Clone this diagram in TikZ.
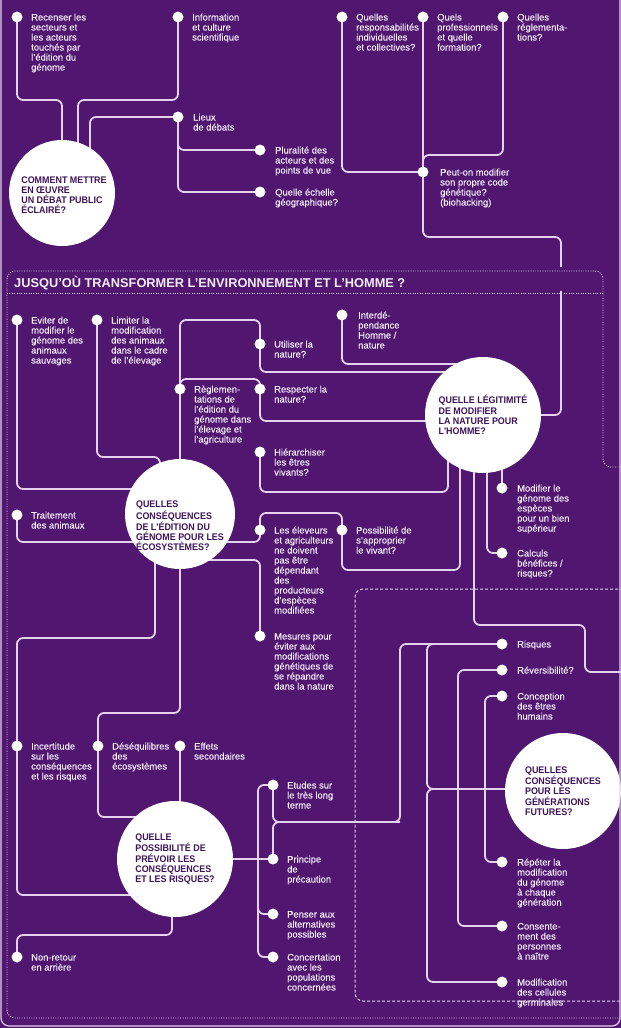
\documentclass[tikz,border=0pt]{standalone}
\usepackage{fontspec}
\setmainfont{Liberation Sans}[FakeStretch=1.0,UprightFeatures={FakeBold=0.3}]
\newfontfamily\circfont{Liberation Sans}[FakeStretch=0.93]
\usetikzlibrary{calc}
\definecolor{bgcol}{RGB}{80,22,112}
\definecolor{lncol}{RGB}{230,210,238}
\definecolor{labcol}{RGB}{244,236,248}
\definecolor{circtext}{RGB}{62,20,88}
\pgfdeclarelayer{back}\pgfdeclarelayer{lines}\pgfdeclarelayer{band}
\pgfsetlayers{back,lines,band,main}
\newcommand\lbl[1]{\begin{tabular}[t]{@{}l@{}}#1\end{tabular}}
\newcommand\lfont{\fontsize{9.4}{10}\selectfont}
\newcommand\cfont{\circfont\bfseries\fontsize{9.6}{10.2}\selectfont}
\tikzset{
 dot/.style={circle,fill=white,inner sep=0pt,minimum size=11pt},
 lab/.style={anchor=base west,inner sep=0pt,font=\lfont,text=labcol},
 bigc/.style={circle,fill=white,inner sep=0pt,minimum size=#1,font=\cfont,text=circtext,align=left},
 ctext/.style={inner sep=0pt,font=\cfont,text=circtext,align=left},
 ln/.style={draw=lncol,line width=1.8pt,rounded corners=6pt},
 dotfr/.style={draw=lncol,line width=0.9pt,dash pattern=on 0.9pt off 1.5pt,rounded corners=8pt},
 dashfr/.style={draw=lncol,line width=1pt,dash pattern=on 3pt off 2pt,rounded corners=8pt},
 outer/.style={draw=lncol,line width=1.2pt,rounded corners=8pt},
}
\newcommand\dotlabel[4][14]{\node[dot] (#2) at (#3) {};\node[lab] (#2t) at ($(#2)+(#1,3.5)$) {\lbl{#4}};}
\begin{document}
\begin{tikzpicture}[x=1pt,y=-1pt]
\useasboundingbox (0,0) rectangle (621,1028);
\begin{pgfonlayer}{back}
\fill[bgcol] (0,0) rectangle (621,1028);
\end{pgfonlayer}
% ---- section 1
\dotlabel{recenser}{17,17}{Recenser les\\secteurs et\\les acteurs\\touchés par\\l'édition du\\génome}
\dotlabel{info}{178,17}{Information\\et culture\\scientifique}
\dotlabel[15]{lieux}{178,117}{Lieux\\de débats}
\dotlabel[15]{plur}{260,150}{Pluralité des\\acteurs et des\\points de vue}
\dotlabel[15]{echelle}{260,192}{Quelle échelle\\géographique?}
\dotlabel{resp}{342,17}{Quelles\\responsabilités\\individuelles\\et collectives?}
\dotlabel{prof}{423,17}{Quels\\professionnels\\et quelle\\formation?}
\dotlabel{regl}{503,17}{Quelles\\réglementa-\\tions?}
\dotlabel[17]{peut}{423,172}{Peut-on modifier\\son propre code\\génétique?\\(biohacking)}
\node[bigc=106pt] (c1) at (62,193) {};
\node[ctext] (c1t) at (64,195) {COMMENT METTRE\\EN ŒUVRE\\UN DÉBAT PUBLIC\\ÉCLAIRÉ?};
% ---- section 2
\node[anchor=base west,inner sep=0pt,font=\bfseries\fontsize{12.8}{13}\selectfont,text=labcol] (hdr) at (14,287) {JUSQU’OÙ TRANSFORMER L’ENVIRONNEMENT ET L’HOMME ?};
\dotlabel{eviter}{17,320}{Eviter de\\modifier le\\génome des\\animaux\\sauvages}
\dotlabel{limiter}{97,320}{Limiter la\\modification\\des animaux\\dans le cadre\\de l'élevage}
\dotlabel{reg}{180,389}{Règlemen-\\tations de\\l'édition du\\génome dans\\l'élevage et\\l'agriculture}
\dotlabel{util}{260,344}{Utiliser la\\nature?}
\dotlabel{respect}{260,389}{Respecter la\\nature?}
\dotlabel{hier}{260,452}{Hiérarchiser\\les êtres\\vivants?}
\dotlabel[16]{inter}{342,315}{Interdé-\\pendance\\Homme /\\nature}
\dotlabel{trait}{17,515}{Traitement\\des animaux}
\dotlabel{eleveurs}{260,530}{Les éleveurs\\et agriculteurs\\ne doivent\\pas être\\dépendant\\des\\producteurs\\d'espèces\\modifiées}
\dotlabel{poss}{342,530}{Possibilité de\\s'approprier\\le vivant?}
\dotlabel{mesures}{260,636}{Mesures pour\\éviter aux\\modifications\\génétiques de\\se répandre\\dans la nature}
\dotlabel[15]{modg}{502,488}{Modifier le\\génome des\\espèces\\pour un bien\\supérieur}
\dotlabel[15]{calcul}{502,553}{Calculs\\bénéfices /\\risques?}
\dotlabel{incert}{17,746}{Incertitude\\sur les\\conséquences\\et les risques}
\dotlabel{deseq}{98,746}{Déséquilibres\\des\\écosystèmes}
\dotlabel{effets}{180,746}{Effets\\secondaires}
\dotlabel{etudes}{273,785}{Etudes sur\\le très long\\terme}
\dotlabel{princ}{273,859}{Principe\\de\\précaution}
\dotlabel{pens}{273,914}{Penser aux\\alternatives\\possibles}
\dotlabel{conc}{273,957}{Concertation\\avec les\\populations\\concernées}
\dotlabel{nonret}{17,957}{Non-retour\\en arrière}
\node[bigc=116pt] (c2) at (483,415) {QUELLE LÉGITIMITÉ\\DE MODIFIER\\LA NATURE POUR\\L'HOMME?};
\node[bigc=110pt] (c3) at (180,514) {};
\node[ctext] (c3t) at (180,526) {QUELLES\\CONSÉQUENCES\\DE L'ÉDITION DU\\GÉNOME POUR LES\\ÉCOSYSTÈMES?};
\node[bigc=116pt] (c4) at (175,859) {QUELLE\\POSSIBILITÉ DE\\PRÉVOIR LES\\CONSÉQUENCES\\ET LES RISQUES?};
% ---- section 3
\dotlabel[15]{risq}{502,644}{Risques}
\dotlabel[15]{rev}{502,670}{Réversibilité?}
\dotlabel[15]{concep}{502,696}{Conception\\des êtres\\humains}
\dotlabel[15]{rep}{502,862}{Répéter la\\modification\\du génome\\à chaque\\génération}
\dotlabel[15]{cons}{502,926}{Consente-\\ment des\\personnes\\à naître}
\dotlabel[15]{modif}{502,982}{Modification\\des cellules\\germinales}
\node[bigc=116pt] (c5) at (563,791) {QUELLES\\CONSÉQUENCES\\POUR LES\\GÉNÉRATIONS\\FUTURES?};
\coordinate (out1) at (628,672);
% ---- connectors
\begin{pgfonlayer}{lines}
\draw[ln] (recenser.center) |- (62,100) -- (c1.center);
\draw[ln] (info.center) |- (78,100) -- (c1.center -| 78,0);
\draw[ln] (lieux.center) -| (c1.center -| 90,0);
\draw[ln] (lieux.center) |- (plur.center);
\draw[ln] (lieux.center) |- (echelle.center);
\draw[ln] (resp.center) |- (peut.center);
\draw[ln] (prof.center) -- (peut.center);
\draw[ln] (regl.center) |- (423,155) -- (peut.center);
\draw[ln] (peut.center) |- (561,237) |- (c2.center);
\draw[ln] (eviter.center) |- (c3.center |- 0,489);
\draw[ln] (limiter.center) |- (160,457) -- (c3.center -| 160,0);
\draw[ln] (c3.center) -- (reg.center) -- (180,320) -| (util.center) |- (c2.center |- 0,372);
\draw[ln] (reg.center) |- (260,379) -- (respect.center) |- (c2.center |- 0,421);
\draw[ln] (inter.center) |- (c2.center |- 0,364);
\draw[ln] (hier.center) |- (448,492) -- (c2.center -| 448,0);
\draw[ln] (c3.center |- 0,542) -| (eleveurs.center) |- (342,513) -- (poss.center) |- (460,570) -- (c2.center -| 460,0);
\draw[ln] (c3.center |- 0,560) -| (mesures.center);
\draw[ln] (trait.center) |- (c3.center |- 0,542);
\draw[ln] (c3.center -| 155,0) |- (17,638) -- (incert.center);
\draw[ln] (c3.center) |- (98,713) -- (deseq.center) |- (c4.center |- 0,817);
\draw[ln] (incert.center) |- (c4.center |- 0,895);
\draw[ln] (effets.center) -- (effets.center |- c4.center);
\draw[ln] (c4.center -| 172,0) |- (17,935) -- (nonret.center);
\draw[ln] (c4.center) -- (princ.center);
\draw[ln] (etudes.center) -| (258,900) |- (conc.center);
\draw[ln] (258,880) |- (pens.center);
\draw[ln] (etudes.center) |- (400,822) |- (risq.center);
\draw[ln] (princ.center) |- (400,822);
\draw[ln] (risq.center) -| (427,720) |- (c5.center |- 0,789);
\draw[ln] (c5.center |- 0,789) -| (427,900) |- (modif.center);
\draw[ln] (rev.center) -| (458,800) |- (cons.center);
\draw[ln] (concep.center) -| (485,800) |- (rep.center);
\draw[ln] (c2.center -| 474,0) |- (585,625) |- (out1);
\draw[ln] (c2.center -| 487,0) |- (calcul.center);
\draw[ln] (c2.center -| 502,0) -- (modg.center);
\end{pgfonlayer}
\begin{pgfonlayer}{band}
\fill[bgcol] (9,267) rectangle (601,291);
\end{pgfonlayer}
% ---- frames
\draw[dotfr] (628,467) -- (603,467) -- (603,271) -- (7,271) -- (7,1018) -- (628,1018);
\draw[dotfr] (7,293) -- (603,293);
\draw[dashfr] (628,589) -- (355,589) -- (355,1001) -- (628,1001);
\draw[outer] (1,-10) -- (1,1026) -- (620,1026) -- (620,-10);
\end{tikzpicture}
\end{document}
